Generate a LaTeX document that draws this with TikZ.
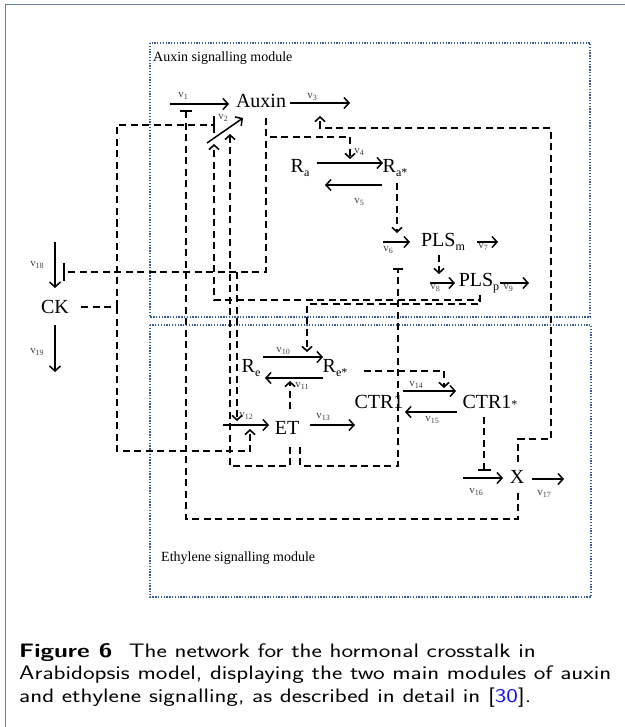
\documentclass[tikz,border=0pt]{standalone}
\usepackage{fontspec}
\setmainfont{Liberation Serif}
\usetikzlibrary{arrows.meta,calc}
\definecolor{FrameBlue}{RGB}{96,126,166}
\definecolor{ModuleBlue}{RGB}{58,92,150}
\definecolor{RateGray}{RGB}{64,64,64}
\definecolor{CiteBlue}{RGB}{20,20,245}
\newcommand{\lo}[1]{\raisebox{-0.18em}{\fontsize{12}{12}\selectfont #1}}
\newcommand{\rate}[1]{v\raisebox{-0.25em}{\fontsize{8}{8}\selectfont #1}}

\begin{document}
\begin{tikzpicture}[x=1pt,y=-1pt, every node/.style={inner sep=0pt, font=\fontsize{20}{24}\selectfont},
  rxn/.style={line width=1.5pt, -{Straight Barb[length=5pt,width=11pt]}},
  lnk/.style={line width=1.6pt, dash pattern=on 7pt off 4.5pt, -{Straight Barb[length=4.5pt,width=10pt]}},
  blk/.style={line width=1.6pt, dash pattern=on 7pt off 4.5pt, -{Bar[width=#1]}}, blk/.default=12pt,
  dsh/.style={line width=1.6pt, dash pattern=on 7pt off 4.5pt},
  rlab/.style={font=\fontsize{11}{11}\selectfont, text=RateGray},
  module/.style={ModuleBlue, line width=1.3pt, dash pattern=on 1.3pt off 1.5pt}]
  \useasboundingbox (0,0) rectangle (624,727);
  \draw[FrameBlue, line width=1.5pt] (5.5,740) -- (5.5,4.5) -- (640,4.5);

  % the two modules
  \draw[module] (150,43) rectangle (590,317);
  \draw[module] (150,325) rectangle (591,597);
  \node[anchor=west, font=\fontsize{14}{16}\selectfont] (auxmod) at (153,58) {Auxin signalling module};
  \node[anchor=west, font=\fontsize{14}{16}\selectfont] (ethmod) at (161,558) {Ethylene signalling module};

  % species
  \node (auxin) at (261,101) {Auxin};
  \node (ra) at (300,168) {R\lo{a}};
  \node (ras) at (395,168) {R\lo{a*}};
  \node (plsm) at (443,242) {PLS\lo{m}};
  \node (plsp) at (479,283) {PLS\lo{p}};
  \node (ck) at (55,307) {CK};
  \node (re) at (251,368) {R\lo{e}};
  \node (res) at (335,368) {R\lo{e*}};
  \node (et) at (287,428) {ET};
  \node (ctr) at (379,402) {CTR1};
  \node (ctrs) at (490,402) {CTR1{\fontsize{12}{12}\selectfont *}};
  \node (xx) at (517,477) {X};

  % reactions v1..v19
  \foreach \n/\xa/\ya/\xb/\yb in {1/170/104/229/104, 2/207/143/243/118, 3/290/103/350/103,
      4/317/163/383/163, 5/382/185/325/185, 6/383/242/410/242, 7/477/242/498/242,
      8/430/283/455/283, 9/500/283/529/283, 10/263/357/323/357, 11/323/378/265/378,
      12/223/425/269/425, 13/310/425/355/425, 14/403/391/456/391, 15/457/412/405/412,
      16/463/478/503/478, 17/532/479/564/479, 18/55/242/55/288, 19/55/325/55/372}
    \draw[rxn] (\xa,\ya) coordinate (v\n a) -- (\xb,\yb) coordinate (v\n b);
  \foreach \n/\x/\y in {1/183/96, 2/223/118, 3/312/97, 4/359/152, 5/359/202, 6/388/250,
      7/483/247, 8/435/288, 9/508/288, 10/283/351, 11/302/386, 12/246/416, 13/323/417,
      14/416/385, 15/432/420, 16/476/492, 17/544/494, 18/37/265, 19/37/352}
    \node[rlab] (lab\n) at (\x,\y) {\rate{\n}};

  % regulation
  \coordinate (ckj) at (117,307);
  \coordinate (auxj) at (266,272);
  \coordinate (auxk) at (237,272);
  \draw[blk] ($(xx.south)+(1,9)$) |- (186,519) -- (186,110);
  \draw[dsh] ($(ck.east)+(12,0)$) -- (ckj);
  \draw[blk=17pt] (ckj) |- (215,125);
  \draw[lnk] (ckj) |- (250,451) -- (250,429);
  \draw[blk=18pt] ($(auxin.south)+(5,10)$) -- (auxj) -- (63,272);
  \draw[lnk] (auxk) -- (237,421);
  \draw[lnk] ($(auxin.south)+(5,10)$) |- (350,137) -- (350,159);
  \draw[lnk] ($(xx.north)+(1,-8)$) |- (551,439) |- (320,128) -- (320,116);
  \draw[lnk] ($(ras.south)+(2,6)$) -- (397,233);
  \draw[lnk] ($(plsm.south)+(-4,4)$) -- (439,274);
  \draw[lnk] ($(plsp.south)+(1,2)$) |- (214,300) -- (214,144);
  \draw[lnk] ($(plsp.south)+(1,2)$) |- (307,304) -- (307,352);
  \draw[lnk] ($(et.south)+(3,12)$) |- (230,466) -- (230,134);
  \draw[lnk] ($(et.north)+(3,-12)$) -- (290,381);
  \draw[blk=10pt] ($(et.south)+(13,12)$) |- (398,466) -- (398,268);
  \draw[lnk] ($(res.east)+(16,3)$) -| (444,388);
  \draw[blk=13pt] ($(ctrs.south)+(-6,8)$) -- (484,471);

  \node[anchor=north west, font=\sffamily\fontsize{19.5}{22.8}\selectfont] (caption) at (19,641)
    {\scalebox{1.265}[1]{\begin{tabular}{@{}l@{}}
     \textbf{Figure 6}\hspace{13pt}The network for the hormonal crosstalk in\\
     Arabidopsis model, displaying the two main modules of auxin\\
     and ethylene signalling, as described in detail in [\textcolor{CiteBlue}{30}].
     \end{tabular}}};
\end{tikzpicture}
\end{document}
